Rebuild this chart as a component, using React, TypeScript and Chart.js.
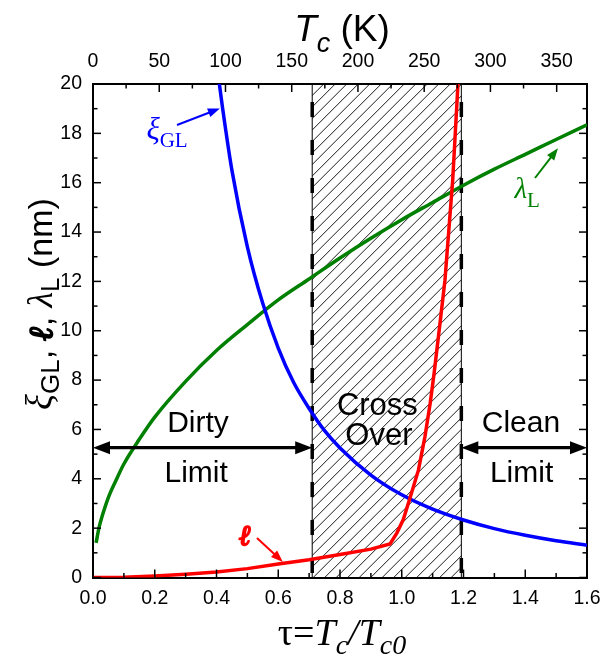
import React, { useEffect, useRef } from "react";
import { Chart, registerables } from "chart.js";
Chart.register(...registerables);

const SANS = '"Liberation Sans", Arial, sans-serif';
const SERIF = '"Liberation Serif", "Times New Roman", serif';
const ELLF = '"Liberation Serif", "DejaVu Serif", serif';

// ---- data ----
// Ginzburg-Landau coherence length xi_GL (nm) vs tau
const tauXi = [0.405, 0.42, 0.45, 0.5, 0.55, 0.6, 0.65, 0.7, 0.75, 0.8, 0.9, 1.0, 1.1, 1.2, 1.3, 1.4, 1.5, 1.6];
const xiGL = [20.4, 19.0, 16.5, 13.4, 11.1, 9.3, 7.9, 6.85, 5.95, 5.25, 4.15, 3.35, 2.77, 2.33, 1.98, 1.71, 1.49, 1.31];
// London penetration depth lambda_L (nm) vs tau
const tauLambda = [0.01, 0.02, 0.03, 0.05, 0.075, 0.1, 0.15, 0.2, 0.3, 0.4, 0.5, 0.6, 0.7, 0.8, 0.9, 1.0, 1.1, 1.2, 1.3, 1.4, 1.5, 1.6];
const lambdaL = [1.4, 2.05, 2.5, 3.25, 3.95, 4.6, 5.6, 6.5, 7.95, 9.2, 10.25, 11.25, 12.1, 12.95, 13.75, 14.5, 15.2, 15.9, 16.55, 17.15, 17.75, 18.35];
// mean free path l (nm) vs tau
const tauEll = [0, 0.1, 0.2, 0.3, 0.4, 0.5, 0.6, 0.7, 0.8, 0.9, 0.962, 0.984, 1.005, 1.025, 1.054, 1.075, 1.092, 1.105, 1.122, 1.14, 1.165, 1.183];
const ell = [0, 0.015, 0.06, 0.13, 0.22, 0.36, 0.55, 0.72, 0.93, 1.15, 1.36, 1.8, 2.35, 3.15, 4.35, 5.7, 7.05, 8.3, 10.1, 12.05, 16.1, 20.2];

// regions
const crossoverStart = 0.71;
const crossoverEnd = 1.193;
const TC0_K = 233.06; // Tc at tau = 1 (top axis)

type Seg = { t: string; font: string; dy?: number; bold?: number };

function segWidth(ctx: CanvasRenderingContext2D, segs: Seg[]) {
  let w = 0;
  for (const s of segs) {
    ctx.font = s.font;
    w += ctx.measureText(s.t).width;
  }
  return w;
}
function drawSegs(ctx: CanvasRenderingContext2D, segs: Seg[], x: number, y: number) {
  let cx = x;
  ctx.textAlign = "left";
  ctx.textBaseline = "alphabetic";
  for (const s of segs) {
    ctx.font = s.font;
    ctx.fillText(s.t, cx, y + (s.dy || 0));
    if (s.bold) {
      ctx.save();
      ctx.strokeStyle = ctx.fillStyle as string;
      ctx.lineWidth = s.bold;
      ctx.lineJoin = "round";
      ctx.strokeText(s.t, cx, y + (s.dy || 0));
      ctx.restore();
    }
    cx += ctx.measureText(s.t).width;
  }
}
function head(ctx: CanvasRenderingContext2D, x1: number, y1: number, x2: number, y2: number, len: number, half: number) {
  const a = Math.atan2(y2 - y1, x2 - x1);
  const c = Math.cos(a), s = Math.sin(a);
  ctx.beginPath();
  ctx.moveTo(x2, y2);
  ctx.lineTo(x2 - len * c + half * s, y2 - len * s - half * c);
  ctx.lineTo(x2 - len * c - half * s, y2 - len * s + half * c);
  ctx.closePath();
  ctx.fill();
}
function arrow(ctx: CanvasRenderingContext2D, x1: number, y1: number, x2: number, y2: number, len: number, half: number, both: boolean) {
  const a = Math.atan2(y2 - y1, x2 - x1);
  const c = Math.cos(a), s = Math.sin(a);
  const sx = both ? x1 + len * 0.7 * c : x1;
  const sy = both ? y1 + len * 0.7 * s : y1;
  ctx.beginPath();
  ctx.moveTo(sx, sy);
  ctx.lineTo(x2 - len * 0.7 * c, y2 - len * 0.7 * s);
  ctx.stroke();
  head(ctx, x1, y1, x2, y2, len, half);
  if (both) head(ctx, x2, y2, x1, y1, len, half);
}

const decor = {
  id: "decor",
  beforeDatasetsDraw(chart: any) {
    const { ctx, chartArea: a, scales } = chart;
    const x1 = scales.x.getPixelForValue(crossoverStart);
    const x2 = scales.x.getPixelForValue(crossoverEnd);
    const h = a.bottom - a.top;
    ctx.save();
    ctx.beginPath();
    ctx.rect(x1, a.top, x2 - x1, h);
    ctx.clip();
    ctx.strokeStyle = "#000";
    ctx.lineWidth = 0.9;
    for (let s = x1 - h; s < x2 + 12; s += 11.5) {
      ctx.beginPath();
      ctx.moveTo(s, a.bottom);
      ctx.lineTo(s + h, a.top);
      ctx.stroke();
    }
    ctx.restore();
    ctx.save();
    ctx.strokeStyle = "#000";
    ctx.lineWidth = 1;
    for (const x of [x1, x2]) {
      ctx.beginPath();
      ctx.moveTo(x, a.top);
      ctx.lineTo(x, a.bottom);
      ctx.stroke();
    }
    ctx.lineWidth = 3.5;
    ctx.setLineDash([15, 23]);
    ctx.lineDashOffset = 20;
    for (const x of [x1, x2]) {
      ctx.beginPath();
      ctx.moveTo(x, a.top);
      ctx.lineTo(x, a.bottom);
      ctx.stroke();
    }
    ctx.restore();
  },
  afterDatasetsDraw(chart: any) {
    const { ctx, scales } = chart;
    const X = (t: number) => scales.x.getPixelForValue(t);
    const Y = (v: number) => scales.y.getPixelForValue(v);
    ctx.save();
    // region arrows
    ctx.strokeStyle = "#000";
    ctx.fillStyle = "#000";
    ctx.lineWidth = 3.2;
    arrow(ctx, X(0), Y(5.26), X(crossoverStart), Y(5.26), 17, 6.5, true);
    arrow(ctx, X(crossoverEnd), Y(5.26), X(1.6), Y(5.26), 17, 6.5, true);
    // region texts
    ctx.font = `30px ${SANS}`;
    ctx.textAlign = "center";
    ctx.textBaseline = "alphabetic";
    ctx.fillText("Dirty", X(0.34), Y(5.9));
    ctx.fillText("Limit", X(0.334), Y(3.87));
    ctx.font = `31px ${SANS}`;
    ctx.fillText("Cross", X(0.921), Y(6.59));
    ctx.fillText("Over", X(0.926), Y(5.37));
    ctx.font = `30px ${SANS}`;
    ctx.fillText("Clean", X(1.386), Y(5.9));
    ctx.fillText("Limit", X(1.388), Y(3.87));

    // curve labels
    ctx.lineWidth = 2;
    ctx.strokeStyle = ctx.fillStyle = "#0000ff";
    arrow(ctx, X(0.272), Y(18.34), X(0.411), Y(19.01), 12, 4.5, false);
    drawSegs(ctx, [
      { t: "\u03BE", font: `italic 31px ${SERIF}` },
      { t: "GL", font: `21px ${SERIF}`, dy: 8 },
    ], X(0.173), Y(17.77));

    ctx.lineWidth = 2;
    ctx.strokeStyle = ctx.fillStyle = "#008000";
    arrow(ctx, X(1.4316), Y(16.19), X(1.506), Y(17.4), 12, 4.5, false);
    drawSegs(ctx, [
      { t: "\u03BB", font: `italic 29px ${SERIF}` },
      { t: "L", font: `21px ${SERIF}`, dy: 9 },
    ], X(1.365), Y(15.38));

    ctx.lineWidth = 2;
    ctx.strokeStyle = ctx.fillStyle = "#ff0000";
    arrow(ctx, X(0.531), Y(1.6), X(0.615), Y(0.63), 12, 4.5, false);
    drawSegs(ctx, [{ t: "\u2113", font: `bold italic 28px ${ELLF}`, bold: 1.8 }], X(0.474), Y(1.32));
    ctx.restore();
  },
  afterDraw(chart: any) {
    const { ctx, chartArea: a, scales } = chart;
    ctx.save();
    ctx.strokeStyle = "#000";
    ctx.lineWidth = 1.5;
    const tickDefs: [string, number, number][] = [
      ["x", 0.1, 0.2],
      ["x2", 25, 50],
      ["y", 1, 2],
      ["y2", 1, 2],
    ];
    for (const [id, minor, major] of tickDefs) {
      const sc = scales[id];
      for (const tk of sc.ticks) {
        const v = tk.value;
        const r = v / minor;
        if (Math.abs(r - Math.round(r)) > 1e-6) continue;
        const isMajor = Math.abs(v / major - Math.round(v / major)) < 1e-6;
        const L = isMajor ? 8 : 4.5;
        const p = sc.getPixelForValue(v);
        ctx.beginPath();
        if (id === "x") { ctx.moveTo(p, a.bottom); ctx.lineTo(p, a.bottom - L); }
        else if (id === "x2") { ctx.moveTo(p, a.top); ctx.lineTo(p, a.top + L); }
        else if (id === "y") { ctx.moveTo(a.left, p); ctx.lineTo(a.left + L, p); }
        else { ctx.moveTo(a.right, p); ctx.lineTo(a.right - L, p); }
        ctx.stroke();
      }
    }
    ctx.fillStyle = "#000";
    // top title
    const top: Seg[] = [
      { t: "T", font: `italic 37px ${SANS}` },
      { t: "c", font: `italic 27px ${SANS}`, dy: 11 },
      { t: " (K)", font: `37px ${SANS}` },
    ];
    const cx = (a.left + a.right) / 2;
    drawSegs(ctx, top, cx + 2 - segWidth(ctx, top) / 2, 41);
    // bottom title
    const bot: Seg[] = [
      { t: "\u03C4=", font: `38px ${SERIF}` },
      { t: "T", font: `italic 38px ${SERIF}` },
      { t: "c", font: `italic 28px ${SERIF}`, dy: 9 },
      { t: "/", font: `italic 38px ${SERIF}` },
      { t: "T", font: `italic 38px ${SERIF}` },
      { t: "c0", font: `italic 28px ${SERIF}`, dy: 9 },
    ];
    drawSegs(ctx, bot, cx + 2 - segWidth(ctx, bot) / 2, 645);
    // y title
    const yt: Seg[] = [
      { t: "\u03BE", font: `italic 37px ${SERIF}` },
      { t: "GL", font: `26px ${SANS}`, dy: 7 },
      { t: ", ", font: `34px ${SANS}` },
      { t: "\u2113", font: `bold italic 33px ${ELLF}`, bold: 1.8 },
      { t: ", ", font: `34px ${SANS}` },
      { t: "\u03BB", font: `italic 36px ${SERIF}` },
      { t: "L", font: `26px ${SANS}`, dy: 7 },
      { t: " (nm)", font: `34px ${SANS}` },
    ];
    ctx.translate(52, 304);
    ctx.rotate(-Math.PI / 2);
    drawSegs(ctx, yt, -segWidth(ctx, yt) / 2, 0);
    ctx.restore();
  },
};

export default function App() {
  const ref = useRef<HTMLCanvasElement>(null);
  useEffect(() => {
    const tickFont = { family: SANS, size: 19.5 };
    const border = { display: true, color: "#000", width: 2 };
    const grid = { display: false, drawTicks: false };
    const fitH = (h: number) => (s: any) => { s.height = h; s.paddingLeft = 0; s.paddingRight = 0; };
    const fitW = (w: number) => (s: any) => { s.width = w; s.paddingTop = 0; s.paddingBottom = 0; };
    const chart = new Chart(ref.current as HTMLCanvasElement, {
      type: "line",
      data: {
        datasets: [
          {
            label: "l",
            data: tauEll.map((t, i) => ({ x: t, y: ell[i] })),
            borderColor: "#ff0000",
            borderWidth: 3.5,
            pointRadius: 0,
            tension: 0,
            clip: 0,
          },
          {
            label: "xiGL",
            data: tauXi.map((t, i) => ({ x: t, y: xiGL[i] })),
            borderColor: "#0000ff",
            borderWidth: 3.5,
            pointRadius: 0,
            cubicInterpolationMode: "monotone",
            clip: 0,
          },
          {
            label: "lambdaL",
            data: tauLambda.map((t, i) => ({ x: t, y: lambdaL[i] })),
            borderColor: "#008000",
            borderWidth: 3.5,
            pointRadius: 0,
            cubicInterpolationMode: "monotone",
            clip: 0,
          },
        ],
      },
      options: {
        animation: false,
        responsive: false,
        maintainAspectRatio: false,
        layout: { padding: 0 },
        plugins: { legend: { display: false }, tooltip: { enabled: false } },
        scales: {
          x: {
            type: "linear",
            position: "bottom",
            min: 0,
            max: 1.6,
            afterFit: fitH(78.5),
            grid,
            border,
            ticks: {
              stepSize: 0.1,
              autoSkip: false,
              maxRotation: 0,
              includeBounds: false,
              padding: 9,
              color: "#000",
              font: tickFont,
              callback: (v: any) => (Math.round(Number(v) * 10) % 2 === 0 ? Number(v).toFixed(1) : ""),
            },
          },
          x2: {
            type: "linear",
            position: "top",
            min: 0,
            max: 1.6 * TC0_K,
            afterFit: fitH(84),
            grid,
            border,
            ticks: {
              stepSize: 25,
              autoSkip: false,
              maxRotation: 0,
              includeBounds: false,
              padding: 11,
              color: "#000",
              font: tickFont,
              callback: (v: any) => (Math.round(Number(v)) % 50 === 0 ? String(Math.round(Number(v))) : ""),
            },
          },
          y: {
            type: "linear",
            position: "left",
            min: 0,
            max: 20,
            afterFit: fitW(93),
            grid,
            border,
            ticks: {
              stepSize: 1,
              autoSkip: false,
              includeBounds: false,
              padding: 11,
              color: "#000",
              font: tickFont,
              callback: (v: any) => (Math.round(Number(v)) % 2 === 0 ? String(Math.round(Number(v))) : ""),
            },
          },
          y2: {
            type: "linear",
            position: "right",
            min: 0,
            max: 20,
            afterFit: fitW(16),
            grid,
            border,
            ticks: { stepSize: 1, display: false, autoSkip: false },
          },
        },
      } as any,
      plugins: [decor],
    });
    return () => chart.destroy();
  }, []);
  return (
    <div style={{ position: "absolute", left: 0, top: 0, width: 603, height: 656, background: "#fff" }}>
      <canvas ref={ref} width={603} height={656} style={{ display: "block", width: 603, height: 656 }} />
    </div>
  );
}
